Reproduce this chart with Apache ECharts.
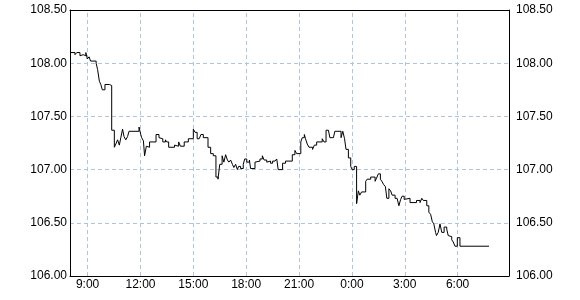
<!DOCTYPE html>
<html>
<head>
<meta charset="utf-8">
<script src="https://cdn.jsdelivr.net/npm/echarts@6/dist/echarts.min.js"></script>
<style>html,body{margin:0;padding:0;background:#fff;}#c{width:580px;height:300px;}</style>
</head>
<body>
<div id="c"></div>
<script>
// time in minutes since 08:00 (day 1); value held until next point
const times = [0,17,23,34,40,45,54,59,65,70,89,94,100,105,110,119,134,142,151,156,162,168,173,179,184,190,196,201,235,241,244,250,254,260,266,271,293,303,309,316,325,329,336,356,362,370,376,389,403,420,426,433,440,446,454,470,479,488,497,504,510,518,524,530,536,541,547,553,558,564,570,574,581,590,595,602,611,615,630,636,647,655,661,670,675,683,690,698,704,709,724,734,757,766,772,786,791,798,802,808,814,826,832,840,859,865,872,880,885,897,902,923,929,935,940,948,956,961,968,976,982,987,993,1007,1012,1024,1039,1044,1050,1057,1062,1068,1074,1079,1086,1092,1097,1107,1114,1120,1126,1131,1138,1144,1158,1180,1192,1198,1203,1215,1222,1228,1234,1239,1245,1248,1254,1260,1266,1274,1283,1288,1294,1300,1305,1311,1319,1328,1427];
const prices = [108.10,108.08,108.10,108.07,108.08,108.07,108.10,108.04,108.06,108.02,108.00,107.94,107.83,107.80,107.75,107.80,107.79,107.37,107.21,107.24,107.28,107.23,107.30,107.38,107.31,107.28,107.31,107.36,107.40,107.33,107.30,107.27,107.13,107.22,107.21,107.26,107.33,107.30,107.29,107.26,107.28,107.26,107.21,107.23,107.22,107.26,107.22,107.26,107.29,107.38,107.35,107.29,107.30,107.33,107.30,107.21,107.15,107.13,106.93,106.91,107.05,107.13,107.07,107.14,107.09,107.07,107.09,107.05,107.02,107.05,107.00,107.03,107.01,107.05,107.10,107.07,107.09,107.01,107.07,107.08,107.10,107.13,107.09,107.07,107.08,107.06,107.08,107.09,107.10,107.00,107.06,107.08,107.14,107.18,107.15,107.26,107.30,107.33,107.29,107.24,107.21,107.19,107.23,107.26,107.29,107.26,107.37,107.38,107.30,107.31,107.36,107.30,107.36,107.29,107.19,107.11,107.03,107.00,107.03,106.68,106.80,106.76,106.79,106.89,106.91,106.93,106.89,106.92,106.96,106.91,106.89,106.86,106.84,106.73,106.82,106.80,106.76,106.73,106.72,106.66,106.72,106.75,106.72,106.73,106.69,106.71,106.69,106.73,106.71,106.66,106.60,106.58,106.51,106.49,106.41,106.38,106.41,106.49,106.41,106.46,106.44,106.38,106.37,106.34,106.32,106.28,106.36,106.28,106.28];
// x tick labels (minutes since 08:00 -> label)
const xTickMinutes = [60,240,420,600,780,960,1140,1320];
const xTickLabels = ['9:00','12:00','15:00','18:00','21:00','0:00','3:00','6:00'];
const yMin = 106.0, yMax = 108.5, yStep = 0.5;

const data = times.map((t, i) => [t, prices[i]]);
const gridColor = '#b0c4de';
const font = {fontFamily: 'Liberation Sans, Arial, sans-serif', fontSize: 12, color: '#000'};

const chart = echarts.init(document.getElementById('c'), null, {renderer: 'canvas'});
chart.setOption({
  animation: false,
  backgroundColor: '#fff',
  grid: {left: 70, right: 71, top: 10, bottom: 24, show: false},
  xAxis: [
    {type: 'value', min: 0, max: 1495, interval: 60, position: 'bottom',
     axisLine: {show: true, onZero: false, lineStyle: {color: '#000', width: 1}}, axisTick: {show: false}, splitLine: {show: false},
     axisLabel: Object.assign({}, font, {margin: 3, showMinLabel: false, showMaxLabel: false,
       formatter: v => { const k = xTickMinutes.indexOf(v); return k >= 0 ? xTickLabels[k] : ''; }})},
    {type: 'value', min: 0, max: 1495, position: 'top',
     axisLine: {show: true, onZero: false, lineStyle: {color: '#000', width: 1}}, axisTick: {show: false},
     splitLine: {show: false}, axisLabel: {show: false}}
  ],
  yAxis: [
    {type: 'value', min: yMin, max: yMax, interval: yStep, position: 'left',
     axisLine: {show: true, onZero: false, lineStyle: {color: '#000', width: 1}}, axisTick: {show: false},
     splitLine: {show: true, showMinLine: false, showMaxLine: false, lineStyle: {color: gridColor, type: [4, 3], width: 1}},
     axisLabel: Object.assign({}, font, {margin: 3, formatter: v => v.toFixed(2)})},
    {type: 'value', min: yMin, max: yMax, interval: yStep, position: 'right',
     axisLine: {show: true, onZero: false, lineStyle: {color: '#000', width: 1}}, axisTick: {show: false}, splitLine: {show: false},
     axisLabel: Object.assign({}, font, {margin: 7, formatter: v => v.toFixed(2)})}
  ],
  series: [
    {type: 'line', data: [], silent: true, z: 1,
     markLine: {silent: true, symbol: 'none', z: 1, label: {show: false}, animation: false,
       lineStyle: {color: gridColor, type: [4, 3], width: 1},
       data: xTickMinutes.map(m => ({xAxis: m}))}},
    {type: 'line', data: data, step: 'end', showSymbol: false, symbol: 'none', z: 3,
     lineStyle: {color: '#000', width: 1}}
  ]
});
</script>
</body>
</html>
